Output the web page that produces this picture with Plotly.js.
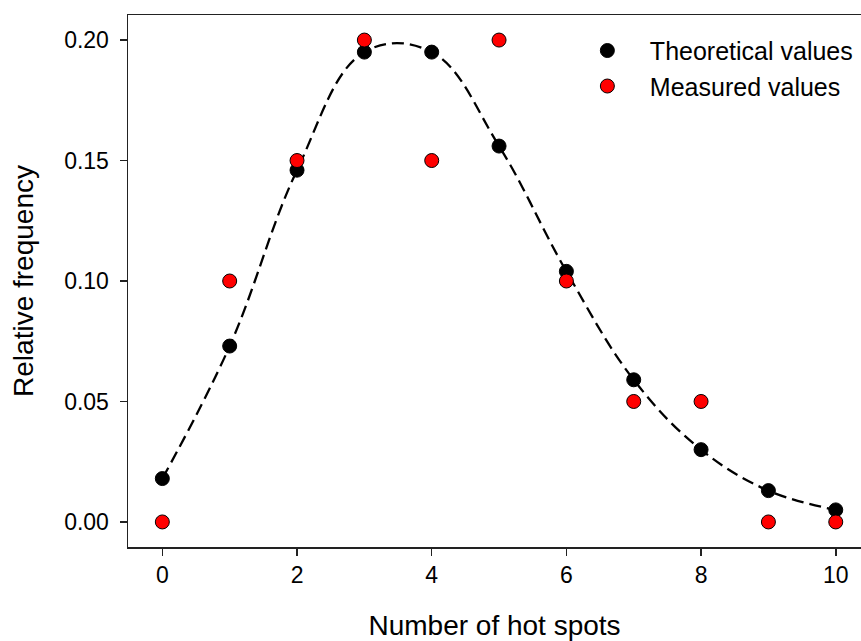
<!DOCTYPE html>
<html>
<head>
<meta charset="utf-8">
<script src="https://cdn.plot.ly/plotly-3.0.1.min.js"></script>
<style>html,body{margin:0;padding:0;background:#fff;}#chart{width:861px;height:641px;}</style>
</head>
<body>
<div id="chart"></div>
<script>
var hotSpots = [0, 1, 2, 3, 4, 5, 6, 7, 8, 9, 10];
var theoretical = [0.018, 0.073, 0.146, 0.195, 0.195, 0.156, 0.104, 0.059, 0.030, 0.013, 0.005];
var measured = [0.00, 0.10, 0.15, 0.20, 0.15, 0.20, 0.10, 0.05, 0.05, 0.00, 0.00];
var xTicks = [0, 2, 4, 6, 8, 10];
var yTicks = [0.00, 0.05, 0.10, 0.15, 0.20];

var FONT = 'Liberation Sans, Arial, sans-serif';

var traces = [
  {
    x: hotSpots, y: theoretical, mode: 'lines', showlegend: false, hoverinfo: 'skip',
    line: {color: '#000', width: 2.3, dash: '12px,6px', shape: 'spline', smoothing: 1.1}
  },
  {
    x: hotSpots, y: theoretical, mode: 'markers', name: 'Theoretical values',
    marker: {color: '#000', size: 14, line: {color: '#000', width: 1}}
  },
  {
    x: hotSpots, y: measured, mode: 'markers', name: 'Measured values',
    marker: {color: '#ff0000', size: 14, line: {color: '#000', width: 1}}
  }
];

var layout = {
  width: 861, height: 641,
  margin: {l: 128, r: 0, t: 14.5, b: 94.3, pad: 0},
  paper_bgcolor: '#fff', plot_bgcolor: '#fff',
  font: {family: FONT, color: '#000', size: 23},
  showlegend: true,
  legend: {
    x: 0.596, xanchor: 'left', y: 0.976, yanchor: 'top',
    itemwidth: 75,
    font: {family: FONT, size: 25, color: '#000'},
    bgcolor: 'rgba(0,0,0,0)', borderwidth: 0, tracegroupgap: 0
  },
  xaxis: {
    range: [-0.51, 10.375],
    tickvals: xTicks, ticktext: xTicks.map(String),
    ticks: 'outside', ticklen: 7, tickwidth: 1.5, tickcolor: '#222',
    showline: true, linecolor: '#222', linewidth: 1.5, mirror: true,
    showgrid: false, zeroline: false,
    tickfont: {family: FONT, size: 23, color: '#000'},
    title: {text: 'Number of hot spots', font: {family: FONT, size: 28, color: '#000'}, standoff: 28}
  },
  yaxis: {
    range: [-0.0104, 0.2104],
    tickvals: yTicks, ticktext: yTicks.map(function(v){return v.toFixed(2);}),
    ticks: 'outside', ticklen: 7, tickwidth: 1.5, tickcolor: '#222',
    showline: true, linecolor: '#222', linewidth: 1.5, mirror: false,
    showgrid: false, zeroline: false,
    tickfont: {family: FONT, size: 23, color: '#000'},
    ticklabelstandoff: 6,
    title: {text: 'Relative frequency', font: {family: FONT, size: 28, color: '#000'}, standoff: 22}
  }
};

Plotly.newPlot('chart', traces, layout, {displayModeBar: false, staticPlot: true});
</script>
</body>
</html>
